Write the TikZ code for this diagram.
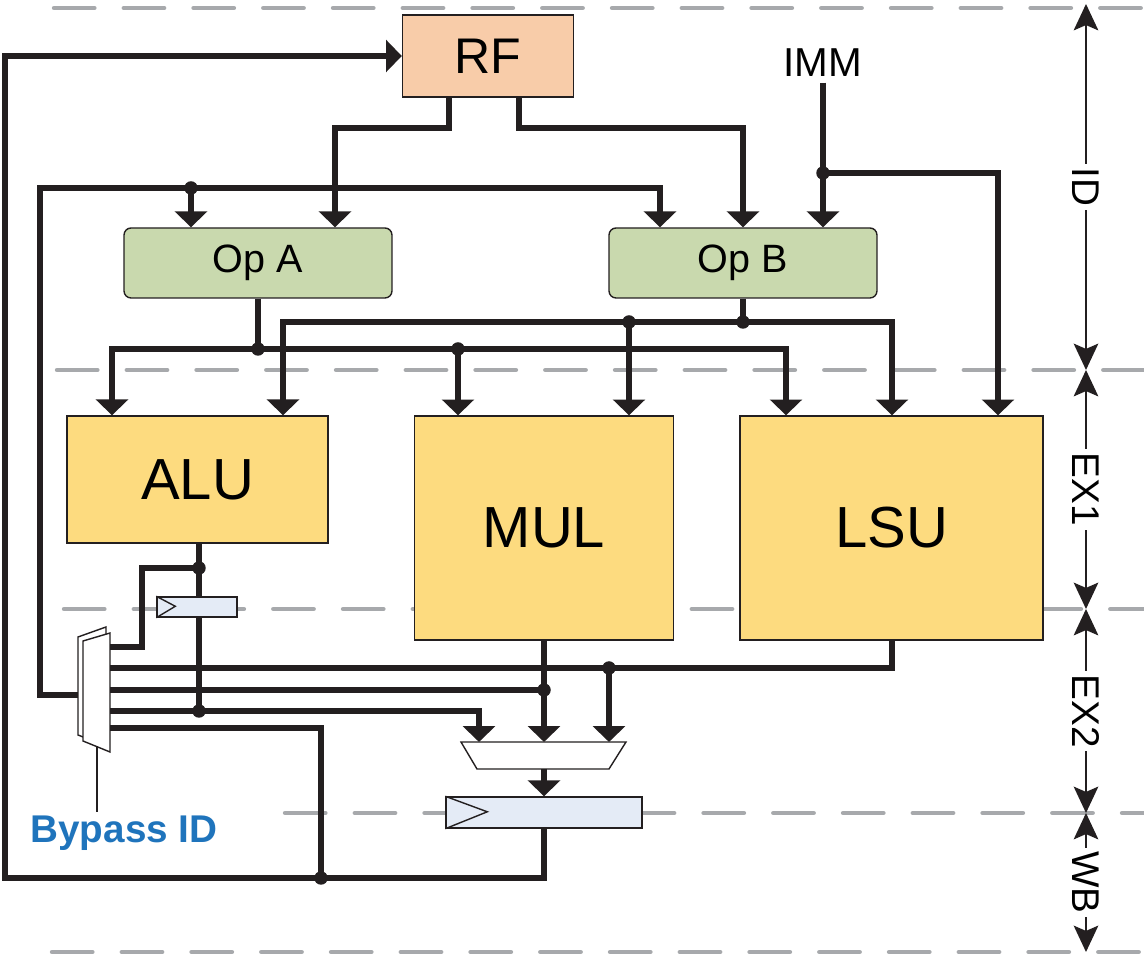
\documentclass[tikz,border=0pt]{standalone}
\usepackage{fontspec}
\setmainfont{Liberation Sans}
\usetikzlibrary{arrows.meta}

\definecolor{rfpeach}{HTML}{F8CCA9}
\definecolor{opgreen}{HTML}{C9D9AE}
\definecolor{unityellow}{HTML}{FDDB7F}
\definecolor{reglblue}{HTML}{E4EBF6}
\definecolor{wireblack}{HTML}{231F20}
\definecolor{stagegray}{HTML}{A7A9AC}
\definecolor{bypassblue}{HTML}{1F74BC}

\begin{document}
\begin{tikzpicture}[x=0.02cm, y=-0.02cm]
  \tikzstyle{wire}=[line width=2.9pt, draw=wireblack, line join=miter]
  \tikzstyle{feed}=[wire, arrows={-Triangle[width=18pt,length=9pt]}]
  \tikzstyle{block}=[rectangle, draw=wireblack, line width=0.8pt]
  \tikzstyle{unit}=[block, fill=unityellow, font=\fontsize{33}{36}\selectfont]
  \tikzstyle{opnd}=[block, rounded corners=0.14cm, fill=opgreen, minimum width=5.36cm, minimum height=1.4cm, font=\fontsize{22.5}{24}\selectfont]
  \tikzstyle{pipereg}=[block, fill=reglblue, inner sep=0pt]
  \tikzstyle{border}=[line width=2.5pt, draw=stagegray, line cap=round, dash pattern=on 23pt off 16.7pt]
  \tikzstyle{stage}=[line width=1.1pt, draw=wireblack, arrows={Stealth[width=14pt,length=15pt,inset=3pt]-Stealth[width=14pt,length=15pt,inset=3pt]}]
  \tikzstyle{stagelbl}=[fill=white, rotate=-90, inner sep=2pt, font=\fontsize{22}{24}\selectfont]

  \useasboundingbox (0,0) rectangle (1144,955);

  % pipeline stage borders
  \foreach \y/\xs in {8/54, 370/57, 609/64, 813/285, 952/52}
    \draw[border] (\xs,\y) -- (1146,\y);

  % stage names
  \draw[stage] (1086,4) -- node[stagelbl] (lblID) {ID} (1086,370);
  \draw[stage] (1086,370) -- node[stagelbl] (lblEXa) {EX1} (1086,609);
  \draw[stage] (1086,609) -- node[stagelbl] (lblEXb) {EX2} (1086,813);
  \draw[stage] (1086,813) -- node[stagelbl] (lblWB) {WB} (1086,952);

  % blocks
  \node[block, fill=rfpeach, minimum width=3.42cm, minimum height=1.64cm, font=\fontsize{28.5}{30}\selectfont] (RF) at (488,56) {RF};
  \node[font=\fontsize{23}{25}\selectfont, inner sep=3pt] (IMM) at (823,63) {IMM};
  \node[opnd] (OpA) at (258,263) {Op A};
  \node[opnd] (OpB) at (743,263) {Op B};
  \node[unit, minimum width=5.22cm, minimum height=2.54cm] (ALU) at (197.5,479.5) {ALU};
  \node[unit, minimum width=5.18cm, minimum height=4.48cm] (MUL) at (544,528) {MUL};
  \node[unit, minimum width=6.06cm, minimum height=4.48cm] (LSU) at (891.5,528) {LSU};
  \node[pipereg, minimum width=1.6cm, minimum height=0.4cm] (regE) at (197,607) {};
  \draw[line width=0.8pt, draw=wireblack] (regE.north west) -- ++(19,10) -- (regE.south west);
  \node[pipereg, minimum width=3.92cm, minimum height=0.62cm] (regW) at (544,812.5) {};
  \draw[line width=0.8pt, draw=wireblack] (regW.north west) -- ++(42,15.5) -- (regW.south west);

  % result mux
  \draw[line width=0.8pt, draw=wireblack, fill=white] (461,742) -- (626,742) -- (609,769) -- (477,769) -- cycle;
  \coordinate (muxN) at (544,742);
  \coordinate (muxS) at (544,769);

  % bypass select
  \draw[line width=0.8pt, draw=wireblack, fill=white] (78,637) -- (106,627) -- (106,746) -- (78,735) -- cycle;
  \draw[line width=0.8pt, draw=wireblack, fill=white] (83,641) -- (110,633) -- (110,752) -- (83,741) -- cycle;
  \coordinate (bypR) at (110,690);
  \coordinate (bypL) at (78,695);
  \node[font=\bfseries\fontsize{22}{24}\selectfont, text=bypassblue, inner sep=2pt] (bypid) at (124,833) {Bypass ID};
  \draw[line width=0.8pt, draw=wireblack] (bypid.north -| 97,0) -- (97,746);

  % junctions
  \coordinate (j1) at (191,188);
  \coordinate (j2) at (823,173);
  \coordinate (j3) at (258,349);
  \coordinate (j4) at (458,349);
  \coordinate (j5) at (743,322);
  \coordinate (j6) at (629,322);
  \coordinate (j7) at (199,568);
  \coordinate (j8) at (199,711);
  \coordinate (j9) at (609,668);
  \coordinate (j10) at (544,690);
  \coordinate (j11) at (321,878);

  % write back
  \draw[feed] (regW.south) |- (j11) -- (5,878) |- (RF.west);
  \draw[wire] (j11) |- (bypR |- 0,728);

  % register file and immediate
  \draw[feed] (RF.south -| 449,0) |- (335,128) -- (OpA.north -| 335,0);
  \draw[feed] (RF.south -| 519,0) |- (743,128) -- (OpB.north -| 743,0);
  \draw[feed] (IMM.south) -- (OpB.north -| IMM.south);
  \draw[feed] (j2) -| (LSU.north -| 998,0);

  % bypass to operands
  \draw[feed] (bypL) -| (40,188) -| (OpB.north -| 660,0);
  \draw[feed] (j1) -- (OpA.north -| j1);

  % operands to units
  \draw[wire] (OpA.south) -- (j3);
  \draw[feed] (j3) -| (ALU.north -| 112,0);
  \draw[feed] (j3) -| (LSU.north -| 786,0);
  \draw[feed] (j4) -- (MUL.north -| j4);
  \draw[wire] (OpB.south) -- (j5);
  \draw[feed] (j5) -| (ALU.north -| 283,0);
  \draw[feed] (j5) -| (LSU.north -| 892,0);
  \draw[feed] (j6) -- (MUL.north -| j6);

  % unit results
  \draw[wire] (ALU.south -| j7) -- (j7) -- (regE.north -| j7);
  \draw[wire] (j7) -| (142,647) -- (bypR |- 0,647);
  \draw[wire] (regE.south -| j8) -- (j8) -- (bypR |- j8);
  \draw[feed] (j8) -| (muxN -| 479,0);
  \draw[wire] (LSU.south -| 892,0) |- (bypR |- j9);
  \draw[feed] (j9) -- (muxN -| j9);
  \draw[wire] (MUL.south) -- (j10) -- (bypR |- j10);
  \draw[feed] (j10) -- (muxN);
  \draw[feed] (muxS) -- (regW.north);

  \foreach \j in {j1,j2,j3,j4,j5,j6,j7,j8,j9,j10,j11}
    \fill[wireblack] (\j) circle (0.135cm);
\end{tikzpicture}
\end{document}
